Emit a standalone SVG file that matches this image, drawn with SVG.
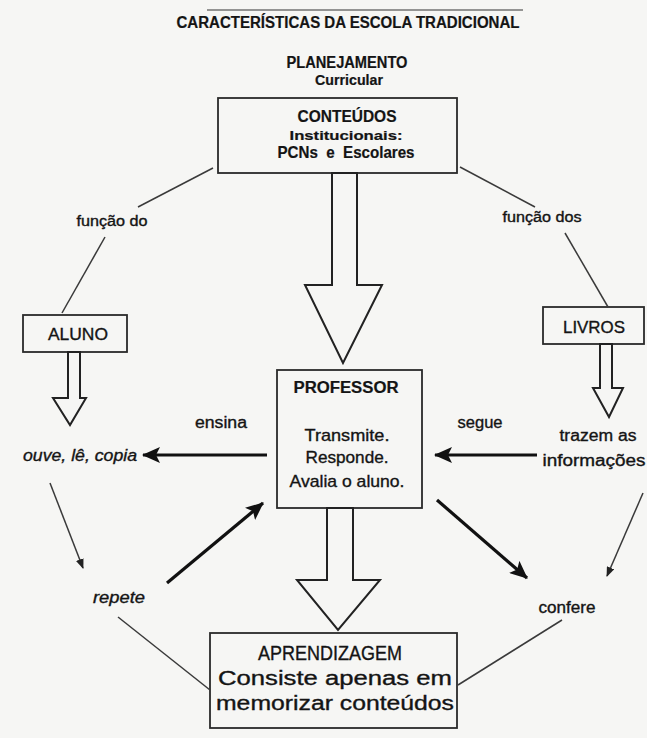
<svg xmlns="http://www.w3.org/2000/svg" width="647" height="738" viewBox="0 0 647 738">
<defs>
<style>
text{font-family:"Liberation Sans",Arial,sans-serif;fill:#141414;stroke:#141414;stroke-width:0.35}
.b{font-weight:bold;stroke-width:0.2}
.i{font-style:italic}
.box{fill:none;stroke:#2a2a2a;stroke-width:1.8}
.hollow{fill:#f6f6f4;stroke:#222;stroke-width:2;stroke-linejoin:miter}
.thin{stroke:#3a3a3a;stroke-width:1.5;fill:none}
.thick{stroke:#111;stroke-width:3.2;fill:none}
</style>
<marker id="hk" markerUnits="userSpaceOnUse" viewBox="0 0 18 16" markerWidth="18" markerHeight="16" refX="17" refY="8" orient="auto">
<path d="M0,0 L18,8 L0,16 L4,8 z" fill="#111"/>
</marker>
<marker id="hs" markerUnits="userSpaceOnUse" viewBox="0 0 10 8" markerWidth="10" markerHeight="8" refX="9" refY="4" orient="auto">
<path d="M0,0 L10,4 L0,8 z" fill="#222"/>
</marker>
</defs>
<rect width="647" height="738" fill="#f6f6f4"/>

<g id="title">
<line x1="207" y1="10" x2="523" y2="10" stroke="#333" stroke-width="1.2"/>
<text class="b" x="348" y="28" font-size="16" text-anchor="middle" textLength="343" lengthAdjust="spacingAndGlyphs">CARACTERÍSTICAS DA ESCOLA TRADICIONAL</text>
</g>

<g id="planejamento">
<text class="b" x="347" y="68" font-size="16" text-anchor="middle" textLength="121" lengthAdjust="spacingAndGlyphs">PLANEJAMENTO</text>
<text class="b" x="349" y="85" font-size="14" text-anchor="middle" textLength="68" lengthAdjust="spacingAndGlyphs">Curricular</text>
</g>

<g id="conteudos">
<rect class="box" x="218" y="98" width="239" height="75"/>
<text class="b" x="347" y="122" font-size="17" text-anchor="middle" textLength="99" lengthAdjust="spacingAndGlyphs">CONTEÚDOS</text>
<text class="b" x="346" y="140" font-size="12" text-anchor="middle" textLength="113" lengthAdjust="spacingAndGlyphs">Institucionais:</text>
<text class="b" x="346" y="158" font-size="17" text-anchor="middle" textLength="137" lengthAdjust="spacingAndGlyphs">PCNs&#160;&#160;e&#160;&#160;Escolares</text>
</g>

<g id="aluno">
<rect class="box" x="23" y="315" width="104" height="37"/>
<text x="78" y="340" font-size="17" text-anchor="middle" textLength="60" lengthAdjust="spacingAndGlyphs">ALUNO</text>
</g>

<g id="livros">
<rect class="box" x="543" y="307" width="101" height="37"/>
<text x="594" y="333" font-size="17" text-anchor="middle" textLength="62" lengthAdjust="spacingAndGlyphs">LIVROS</text>
</g>

<g id="professor">
<rect class="box" x="277" y="370" width="145" height="138"/>
<text class="b" x="346" y="393" font-size="16" text-anchor="middle" textLength="105" lengthAdjust="spacingAndGlyphs">PROFESSOR</text>
<text x="347" y="441" font-size="17" text-anchor="middle" textLength="85" lengthAdjust="spacingAndGlyphs">Transmite.</text>
<text x="347" y="463" font-size="17" text-anchor="middle" textLength="83" lengthAdjust="spacingAndGlyphs">Responde.</text>
<text x="347" y="487" font-size="17" text-anchor="middle" textLength="115" lengthAdjust="spacingAndGlyphs">Avalia o aluno.</text>
</g>

<g id="aprendizagem">
<rect class="box" x="210" y="633" width="247" height="95"/>
<text x="330" y="660" font-size="20" text-anchor="middle" textLength="144" lengthAdjust="spacingAndGlyphs">APRENDIZAGEM</text>
<text x="335" y="685" font-size="20" text-anchor="middle" textLength="234" lengthAdjust="spacingAndGlyphs">Consiste apenas em</text>
<text x="335" y="710" font-size="20" text-anchor="middle" textLength="238" lengthAdjust="spacingAndGlyphs">memorizar conteúdos</text>
</g>

<g id="ouve">
<text class="i" x="80" y="461" font-size="16" text-anchor="middle" textLength="114" lengthAdjust="spacingAndGlyphs">ouve, lê, copia</text>
</g>

<g id="repete">
<text class="i" x="119" y="603" font-size="16" text-anchor="middle" textLength="52" lengthAdjust="spacingAndGlyphs">repete</text>
</g>

<g id="trazem">
<text x="598" y="441" font-size="16" text-anchor="middle" textLength="77" lengthAdjust="spacingAndGlyphs">trazem as</text>
<text x="594" y="466" font-size="16" text-anchor="middle" textLength="103" lengthAdjust="spacingAndGlyphs">informações</text>
</g>

<g id="confere">
<text x="567" y="613" font-size="16" text-anchor="middle" textLength="57" lengthAdjust="spacingAndGlyphs">confere</text>
</g>

<g id="connectors">
<polygon class="hollow" points="332,173 357,173 357,285 382,285 343,363 305,285 332,285"/>
<polygon class="hollow" points="327,508 353,508 353,580 380,580 338,630 297,580 327,580"/>
<polygon class="hollow" points="68,352 80,352 80,398 86,398 70,425 53,398 68,398"/>
<polygon class="hollow" points="600,344 612,344 612,388 623,388 609,417 593,388 600,388"/>

<line class="thin" x1="213" y1="168" x2="138" y2="207"/>
<text x="112" y="226" font-size="14" text-anchor="middle" textLength="71" lengthAdjust="spacingAndGlyphs">função do</text>
<line class="thin" x1="105" y1="237" x2="62" y2="313"/>

<line class="thin" x1="460" y1="167" x2="535" y2="207"/>
<text x="542" y="222" font-size="14" text-anchor="middle" textLength="79" lengthAdjust="spacingAndGlyphs">função dos</text>
<line class="thin" x1="565" y1="233" x2="608" y2="307"/>

<line class="thick" x1="267" y1="455" x2="143" y2="455" marker-end="url(#hk)"/>
<text x="221" y="428" font-size="16" text-anchor="middle" textLength="52" lengthAdjust="spacingAndGlyphs">ensina</text>
<line class="thick" x1="537" y1="455" x2="435" y2="455" marker-end="url(#hk)"/>
<text x="480" y="428" font-size="16" text-anchor="middle" textLength="45" lengthAdjust="spacingAndGlyphs">segue</text>

<line class="thin" x1="50" y1="483" x2="83" y2="568" marker-end="url(#hs)"/>
<line class="thick" x1="167" y1="583" x2="263" y2="503" marker-end="url(#hk)"/>
<line class="thin" x1="118" y1="617" x2="210" y2="690"/>

<line class="thick" x1="437" y1="500" x2="527" y2="578" marker-end="url(#hk)"/>
<line class="thin" x1="643" y1="493" x2="607" y2="576" marker-end="url(#hs)"/>
<line class="thin" x1="562" y1="620" x2="458" y2="685"/>
</g>
</svg>
